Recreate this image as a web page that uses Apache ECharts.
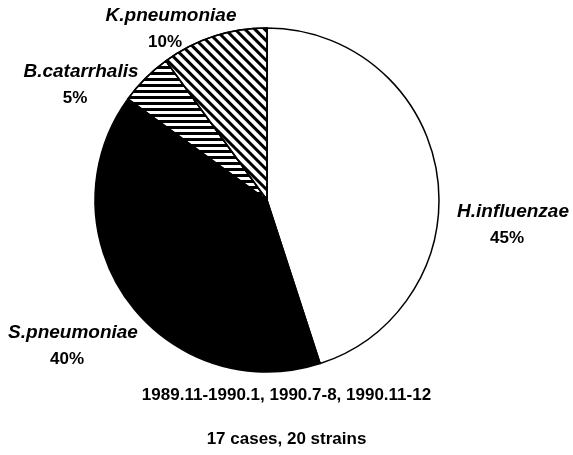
<!DOCTYPE html>
<html>
<head>
<meta charset="utf-8">
<script src="https://cdn.jsdelivr.net/npm/echarts@6/dist/echarts.min.js"></script>
<style>
  html, body { margin: 0; padding: 0; background: #fff; }
  #chart { width: 573px; height: 455px; }
</style>
</head>
<body>
<div id="chart"></div>
<script>
// organisms and share of strains (%)
const names = ['H.influenzae', 'S.pneumoniae', 'B.catarrhalis', 'K.pneumoniae']
const values = [45, 40, 5, 10]
const notes = ['1989.11-1990.1, 1990.7-8, 1990.11-12', '17 cases, 20 strains']

// where each label sits (px)
const labelPos = [[513, 225], [73, 346], [81, 85], [171, 29]]

const chart = echarts.init(document.getElementById('chart'))

const fills = [
  { color: '#fff' },
  { color: '#000' },
  // horizontal stripes
  { color: '#fff', decal: { symbol: 'rect', symbolSize: 1, dashArrayX: [1, 0], dashArrayY: [3, 3], rotation: 0, color: '#000' } },
  // diagonal stripes
  { color: '#fff', decal: { symbol: 'rect', symbolSize: 1, dashArrayX: [1, 0], dashArrayY: [3, 4], rotation: Math.PI / 4, color: '#000' } }
]

const option = {
  animation: false,
  backgroundColor: '#fff',
  textStyle: { fontFamily: 'Liberation Sans, Arial, sans-serif' },
  series: [
    {
      type: 'pie',
      center: [267, 200],
      radius: 172,
      startAngle: 90,
      clockwise: true,
      silent: true,
      itemStyle: { borderColor: '#000', borderWidth: 1.5 },
      label: {
        show: true,
        overflow: 'none',
        formatter: '{n|{b}}\n{p|{d}%}',
        color: '#000',
        rich: {
          n: { fontSize: 19, fontWeight: 'bold', fontStyle: 'italic', color: '#000', lineHeight: 27, fontFamily: 'Liberation Sans' },
          p: { fontSize: 17, fontWeight: 'bold', color: '#000', lineHeight: 27, fontFamily: 'Liberation Sans', padding: [0, 12, 0, 0] }
        }
      },
      labelLine: { show: false },
      labelLayout: function (params) {
        const p = labelPos[params.dataIndex]
        return { x: p[0], y: p[1], align: 'center', verticalAlign: 'middle' }
      },
      data: names.map((n, i) => ({ name: n, value: values[i], itemStyle: fills[i] }))
    }
  ],
  graphic: [
    {
      type: 'text', left: 'center', top: 387,
      style: { text: notes[0], font: 'bold 17px Liberation Sans', fill: '#000' }
    },
    {
      type: 'text', left: 'center', top: 431,
      style: { text: notes[1], font: 'bold 17px Liberation Sans', fill: '#000' }
    }
  ]
}

chart.setOption(option)
</script>
</body>
</html>
